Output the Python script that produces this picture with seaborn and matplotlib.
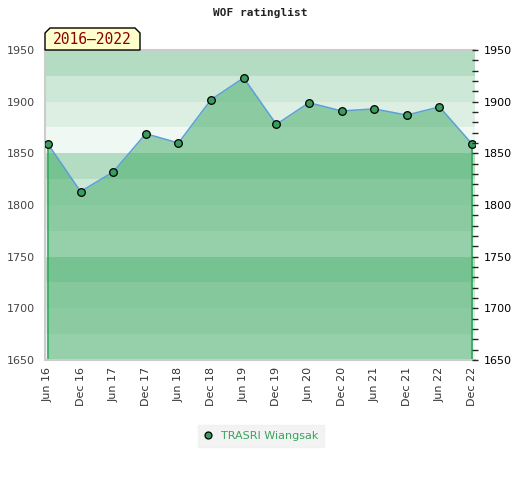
import numpy as np
import pandas as pd
import matplotlib
matplotlib.use('Agg')
import matplotlib.pyplot as plt
import seaborn as sns
from matplotlib.ticker import MultipleLocator
from matplotlib.patches import Polygon

# === DATOS ===
periods = ['Jun 16', 'Dec 16', 'Jun 17', 'Dec 17', 'Jun 18', 'Dec 18', 'Jun 19',
           'Dec 19', 'Jun 20', 'Dec 20', 'Jun 21', 'Dec 21', 'Jun 22', 'Dec 22']
ratings = [1859, 1813, 1832, 1869, 1860, 1902, 1923,
           1878, 1899, 1891, 1893, 1887, 1895, 1859]
player = 'TRASRI Wiangsak'
period_label = '2016\u20132022'
y_ticks = [1650, 1700, 1750, 1800, 1850, 1900, 1950]

df = pd.DataFrame({'x': np.arange(len(periods)), 'rating': ratings})

sns.set_style('white')
plt.rcParams['font.family'] = ['DejaVu Sans']

fig = plt.figure(figsize=(5.2, 4.8), dpi=100)
ax = fig.add_axes([45 / 520, 120 / 480, 430 / 520, 310 / 480])

ymin, ymax = y_ticks[0], y_ticks[-1]

# bandas de fondo (patrón cada 100 puntos)
band_colors = {25: '#b3dcc2', 0: '#cde8d7', 75: '#ddefe3', 50: '#f0f8f3'}
for lo in range(ymin, ymax, 25):
    ax.axhspan(lo, lo + 25, color=band_colors[lo % 100], lw=0, zorder=0)

# área bajo la línea
ax.fill_between(df['x'], ymin, df['rating'], color='#3da962', alpha=0.5, lw=0, zorder=1)
ax.vlines([df['x'].iloc[0], df['x'].iloc[-1]], ymin,
          [df['rating'].iloc[0], df['rating'].iloc[-1]], color='#2ea85a', lw=1.2, zorder=2)

sns.lineplot(data=df, x='x', y='rating', ax=ax, color='#5aa0d8', lw=1.1,
             marker='o', markersize=5.5, markerfacecolor='#3a9d5d',
             markeredgecolor='black', markeredgewidth=0.9, zorder=3,
             label=player, legend=False)

ax.set_xlim(-0.09, len(periods) - 1 + 0.09)
ax.set_ylim(ymin, ymax)
ax.set_xticks(df['x'])
ax.set_xticklabels(periods, rotation=90, fontsize=8, color='#333333')
ax.set_yticks(y_ticks)
ax.set_yticklabels([str(t) for t in y_ticks], fontsize=8, color='#444444')
ax.tick_params(axis='both', length=0, pad=7)
ax.tick_params(axis='x', pad=5)
ax.set_xlabel('')
ax.set_ylabel('')
for side in ['top', 'left', 'bottom']:
    ax.spines[side].set_color('#cccccc')
    ax.spines[side].set_linewidth(1.5)
ax.spines['right'].set_visible(False)

# eje derecho
ax2 = ax.twinx()
ax2.set_ylim(ymin, ymax)
ax2.set_yticks(y_ticks)
ax2.set_yticklabels([str(t) for t in y_ticks], fontsize=8, color='black')
ax2.yaxis.set_minor_locator(MultipleLocator(10))
ax2.tick_params(axis='y', which='major', direction='inout', length=5, width=1, pad=4)
ax2.tick_params(axis='y', which='minor', direction='inout', length=4, width=1)
for side in ax2.spines:
    ax2.spines[side].set_visible(False)

# título
fig.text(0.5, 1 - 13 / 480, 'WOF ratinglist', ha='center', va='center',
         fontsize=8, fontweight='bold', family='DejaVu Sans Mono', color='#222222')

# etiqueta del periodo
x0, x1 = 45 / 520, 140 / 520
y0, y1 = 1 - 50 / 480, 1 - 28 / 480
c = 5 / 520
cy = 5 / 480
tag = Polygon([[x0, y0], [x1, y0], [x1, y1 - cy], [x1 - c, y1], [x0 + c, y1], [x0, y1 - cy]],
              closed=True, transform=fig.transFigure, facecolor='#ffffcc',
              edgecolor='black', lw=1, zorder=5)
fig.patches.append(tag)
fig.text((x0 + x1) / 2, (y0 + y1) / 2 - 1 / 480, period_label, ha='center', va='center',
         fontsize=10.5, family='DejaVu Sans Mono', color='#8b0000', zorder=6)

# leyenda
handles, labels = ax.get_legend_handles_labels()
leg = fig.legend(handles, labels, loc='center', bbox_to_anchor=(261 / 520, 1 - 436 / 480),
                 frameon=True, fancybox=False, fontsize=8, handlelength=0.8,
                 handletextpad=0.8, borderpad=0.5)
leg.get_frame().set_facecolor('#f0f0f0')
leg.get_frame().set_edgecolor('#f0f0f0')
for line in leg.get_lines():
    line.set_linestyle('none')
    line.set_markersize(5)
for t in leg.get_texts():
    t.set_color('#3aa35d')

fig.savefig('out.png', dpi=100)
